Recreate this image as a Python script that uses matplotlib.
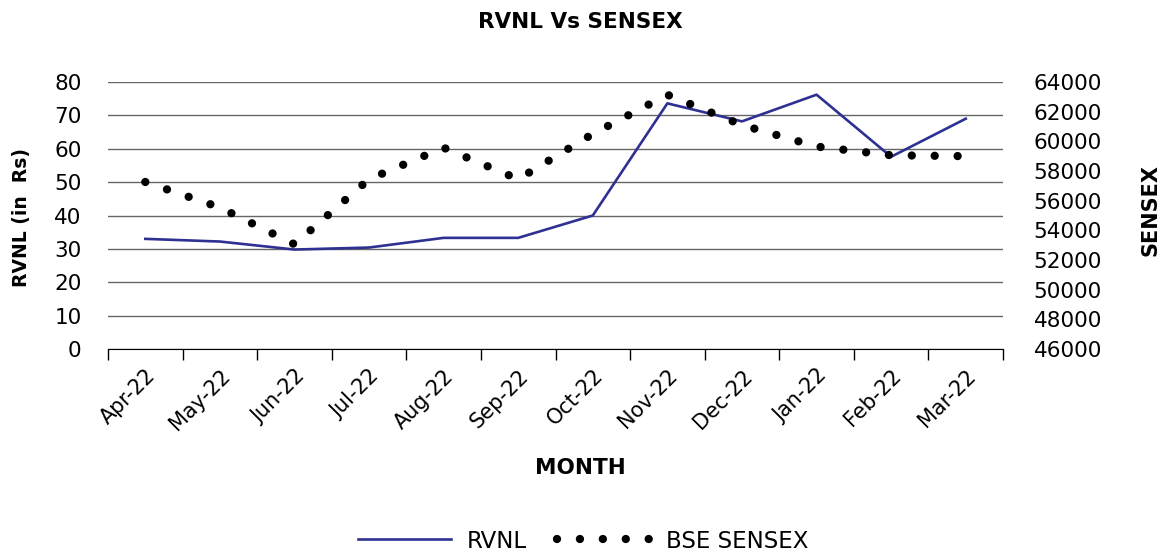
import matplotlib
matplotlib.use("Agg")
from matplotlib import pyplot as plt
from matplotlib.transforms import ScaledTranslation
import numpy as np

# monthly values
months = ["Apr-22", "May-22", "Jun-22", "Jul-22", "Aug-22", "Sep-22",
          "Oct-22", "Nov-22", "Dec-22", "Jan-22", "Feb-22", "Mar-22"]
rvnl = [33.0, 32.2, 29.8, 30.4, 33.3, 33.3, 40.0, 73.6, 68.2, 76.2, 57.6, 69.0]
sensex = [57260, 55540, 53060, 57450, 59570, 57450,
          60500, 63140, 61100, 59650, 59060, 59000]

plt.rcParams["font.family"] = ["DejaVu Sans"]

fig = plt.figure(figsize=(11.6, 5.52), dpi=100)
ax = fig.add_axes([108 / 1160, 1 - 349 / 552, 895 / 1160, 267 / 552])
ax2 = ax.twinx()

x = np.arange(len(months))

# left axis - RVNL
ax.plot(x, rvnl, color="#2e3192", lw=1.9, label="RVNL", zorder=3)
ax.set_ylim(0, 80)
ax.set_yticks(range(0, 81, 10))
ax.set_xlim(-0.5, len(months) - 0.5)
ax.grid(axis="y", color="#666666", lw=1)
ax.set_axisbelow(True)

# right axis - sensex as round dotted line
ax2.plot(x, sensex, color="black", lw=6.0, linestyle=(0, (0.001, 2.75)),
         dash_capstyle="round", label="BSE SENSEX", zorder=3)
ax2.set_ylim(46000, 64000)
ax2.set_yticks(range(46000, 64001, 2000))

for a in (ax, ax2):
    for s in a.spines.values():
        s.set_visible(False)
ax.spines["bottom"].set_visible(True)
ax.spines["bottom"].set_color("black")

# ticks between categories, labels on the centres
ax.set_xticks(np.arange(-0.5, len(months)), minor=False)
ax.set_xticklabels([])
ax.set_xticks(x, minor=True)
ax.set_xticklabels(months, minor=True, rotation=45, ha="right",
                   rotation_mode="anchor", fontsize=15)
shift = ScaledTranslation(-12 / 100, 0, fig.dpi_scale_trans)
for lbl in ax.get_xticklabels(minor=True):
    lbl.set_transform(lbl.get_transform() + shift)
ax.tick_params(axis="x", which="major", length=8, color="black", width=1)
ax.tick_params(axis="x", which="minor", length=0, pad=12)
ax.tick_params(axis="y", length=0, labelsize=15.5, pad=19)
ax2.tick_params(axis="y", length=0, labelsize=15.5, pad=22)

fig.text(0.5, 1 - 22 / 552, "RVNL Vs SENSEX", ha="center", va="center",
         fontsize=15.5, fontweight="bold")
fig.text(0.5, 1 - 468 / 552, "MONTH", ha="center", va="center",
         fontsize=15.5, fontweight="bold")
fig.text(22 / 1160, 1 - 217 / 552, "RVNL (in  Rs)", ha="center", va="center",
         rotation=90, fontsize=13.5, fontweight="bold")
fig.text(1150 / 1160, 1 - 210 / 552, "SENSEX", ha="center", va="center",
         rotation=90, fontsize=15, fontweight="bold")

h1, l1 = ax.get_legend_handles_labels()
h2, l2 = ax2.get_legend_handles_labels()
fig.legend(h1 + h2, l1 + l2, loc="center", bbox_to_anchor=(583 / 1160, 1 - 541 / 552),
           ncol=2, frameon=False, fontsize=16.5, handlelength=4.05,
           columnspacing=1.3, handletextpad=0.7)

fig.savefig("out.png", dpi=100)
